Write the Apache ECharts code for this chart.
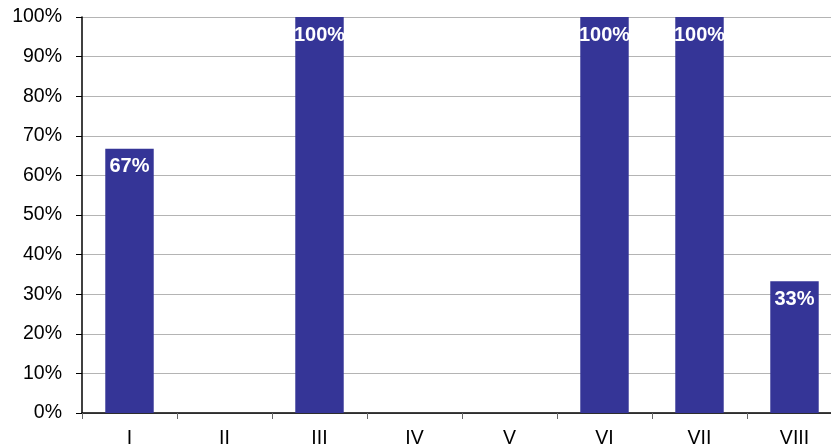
<!DOCTYPE html>
<html>
<head>
<meta charset="utf-8">
<script src="https://cdn.jsdelivr.net/npm/echarts@6/dist/echarts.min.js"></script>
<style>
html, body { margin: 0; padding: 0; background: #fff; }
#main { width: 831px; height: 447px; }
</style>
</head>
<body>
<div id="main"></div>
<script>
// categories and values (labels show rounded values)
var categories = ['I', 'II', 'III', 'IV', 'V', 'VI', 'VII', 'VIII'];
var shares = [66.7, 0, 100, 0, 0, 100, 100, 33.3];
var yTicks = [0, 10, 20, 30, 40, 50, 60, 70, 80, 90, 100];

var myChart = echarts.init(document.getElementById('main'));

var options = {
    animation: false,
    grid: {
        left: 82,
        width: 760,   // plot runs past the right edge in the original
        top: 17,
        bottom: 34,
        outerBoundsMode: 'none'
    },
    xAxis: {
        type: 'category',
        data: categories,
        axisLine: { show: true, lineStyle: { color: '#000', width: 1.5 } },
        axisTick: { show: true, length: 6, lineStyle: { color: '#666' } },
        axisLabel: {
            color: '#000',
            fontFamily: 'Liberation Sans, Arial, sans-serif',
            fontSize: 19.5,
            margin: 16
        }
    },
    yAxis: {
        type: 'value',
        min: yTicks[0],
        max: yTicks[yTicks.length - 1],
        interval: 10,
        axisLine: { show: true, lineStyle: { color: '#000', width: 1.5 } },
        axisTick: { show: true, length: 6, inside: false, lineStyle: { color: '#000' } },
        splitLine: { show: true, lineStyle: { color: '#b4b4b4', width: 1.2 } },
        axisLabel: {
            color: '#000',
            fontFamily: 'Liberation Sans, Arial, sans-serif',
            fontSize: 19.5,
            margin: 20,
            formatter: '{value}%'
        }
    },
    series: [{
        type: 'bar',
        data: shares,
        barWidth: '51%',
        itemStyle: { color: '#353597' },
        label: {
            show: true,
            position: 'insideTop',
            distance: 8,
            color: '#fff',
            fontWeight: 'bold',
            fontSize: 20,
            fontFamily: 'Liberation Sans, Arial, sans-serif',
            formatter: function (p) {
                return p.value > 0 ? Math.round(p.value) + '%' : '';
            }
        }
    }]
};

myChart.setOption(options);
</script>
</body>
</html>
